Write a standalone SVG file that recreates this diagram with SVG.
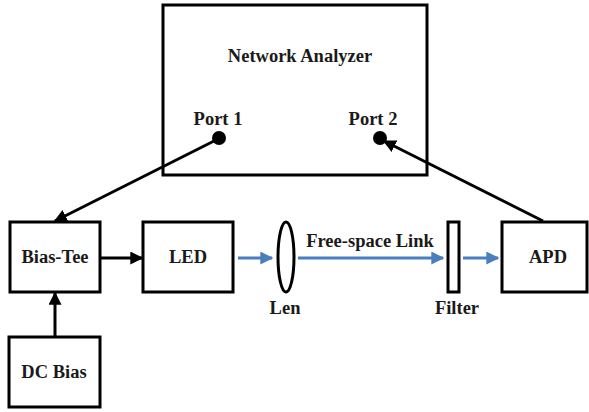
<svg xmlns="http://www.w3.org/2000/svg" width="589" height="412" viewBox="0 0 589 412">
<style>
.box{fill:#fff;stroke:#000;stroke-width:3}
.t{font-family:'Liberation Serif','Times New Roman','DejaVu Serif',serif;font-weight:bold;font-size:18.5px;fill:#1a1a1a;text-anchor:middle}
.k{stroke:#000;stroke-width:3;fill:none}
.b{stroke:#4a7ebf;stroke-width:3;fill:none}
</style>
<defs>
<marker id="ak" viewBox="0 0 10 10" refX="9" refY="5" markerWidth="13" markerHeight="13" markerUnits="userSpaceOnUse" orient="auto">
<path d="M0,0 L10,5 L0,10 Z" fill="#000"/>
</marker>
<marker id="ab" viewBox="0 0 10 10" refX="9" refY="5" markerWidth="13" markerHeight="13" markerUnits="userSpaceOnUse" orient="auto">
<path d="M0,0 L10,5 L0,10 Z" fill="#4a7ebf"/>
</marker>
</defs>
<g id="analyzer">
<rect class="box" x="163" y="5" width="264" height="170"/>
<text class="t" x="300" y="62">Network Analyzer</text>
<text class="t" x="218" y="125">Port 1</text>
<text class="t" x="373" y="125">Port 2</text>
<circle cx="219" cy="138" r="7" fill="#000"/>
<circle cx="380" cy="138" r="7" fill="#000"/>
</g>
<g id="biastee"><rect class="box" x="10" y="222" width="90" height="70"/><text class="t" x="55" y="263">Bias-Tee</text></g>
<g id="led"><rect class="box" x="143" y="222" width="90" height="70"/><text class="t" x="188" y="263">LED</text></g>
<g id="lens"><ellipse cx="286" cy="257" rx="8" ry="35" fill="#fff" stroke="#000" stroke-width="3"/><text class="t" x="285" y="314">Len</text></g>
<g id="filter"><rect class="box" x="448" y="222" width="11" height="70"/><text class="t" x="457" y="314">Filter</text></g>
<g id="apd"><rect class="box" x="502" y="222" width="85" height="70"/><text class="t" x="548" y="263">APD</text></g>
<g id="dcbias"><rect class="box" x="9" y="337" width="91" height="70"/><text class="t" x="54" y="378">DC Bias</text></g>
<g id="connectors">
<line class="k" x1="216" y1="140" x2="55" y2="221" marker-end="url(#ak)"/>
<line class="k" x1="543" y1="221" x2="384" y2="141" marker-end="url(#ak)"/>
<line class="k" x1="100" y1="258" x2="142" y2="258" marker-end="url(#ak)"/>
<line class="k" x1="55" y1="337" x2="55" y2="293" marker-end="url(#ak)"/>
<line class="b" x1="238" y1="258" x2="272" y2="258" marker-end="url(#ab)"/>
<line class="b" x1="298" y1="258" x2="443" y2="258" marker-end="url(#ab)"/>
<line class="b" x1="463" y1="258" x2="498" y2="258" marker-end="url(#ab)"/>
<text class="t" x="370" y="247">Free-space Link</text>
</g>
</svg>
